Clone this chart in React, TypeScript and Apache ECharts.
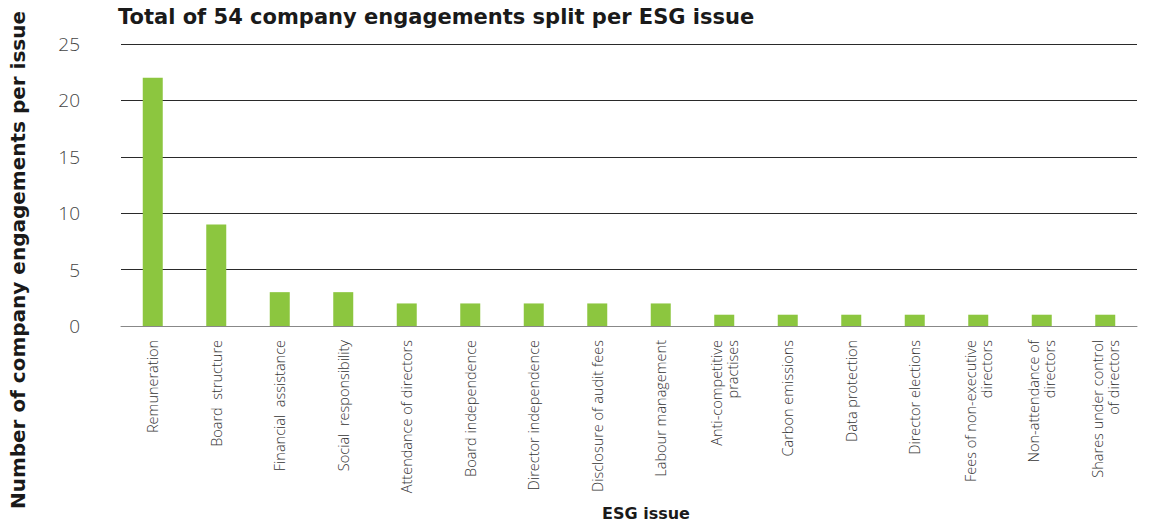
import React, { useEffect, useRef } from "react";
import * as echarts from "echarts";

const categories = [
  "Remuneration",
  "Board  structure",
  "Financial  assistance",
  "Social  responsibility",
  "Attendance of directors",
  "Board independence",
  "Director independence",
  "Disclosure of audit fees",
  "Labour management",
  "Anti-competitive\npractises",
  "Carbon emissions",
  "Data protection",
  "Director elections",
  "Fees of non-executive\ndirectors",
  "Non-attendance of\ndirectors",
  "Shares under control\nof directors",
];
const values = [22, 9, 3, 3, 2, 2, 2, 2, 2, 1, 1, 1, 1, 1, 1, 1];
const yTicks = { min: 0, max: 25, interval: 5 };
const title = "Total of 54 company engagements split per ESG issue";
const yName = "Number of company engagements per issue";
const xName = "ESG issue";

export default function App() {
  const ref = useRef<HTMLDivElement>(null);
  useEffect(() => {
    if (!ref.current) return;
    const chart = echarts.init(ref.current, null, { renderer: "svg" });
    chart.setOption({
      animation: false,
      backgroundColor: "#ffffff",
      title: {
        text: title,
        left: 113,
        top: 1,
        textStyle: { fontFamily: "DejaVu Sans", fontWeight: "bold", fontSize: 21, color: "#1a1a1a" },
      },
      grid: { left: 121, right: 14, top: 44, bottom: 199, containLabel: false },
      xAxis: {
        type: "category",
        data: categories,
        axisLine: { show: true, lineStyle: { color: "#888", width: 1 } },
        axisTick: { show: false },
        axisLabel: {
          interval: 0,
          rotate: 90,
          margin: 14,
          fontFamily: "Open Sans",
          fontWeight: 300,
          fontSize: 14.5,
          color: "#333",
          lineHeight: 16,
        },
      },
      yAxis: {
        type: "value",
        min: yTicks.min,
        max: yTicks.max,
        interval: yTicks.interval,
        axisLine: { show: false },
        axisTick: { show: false },
        axisLabel: {
          margin: 41,
          fontFamily: "Open Sans",
          fontWeight: 300,
          fontSize: 19,
          color: "#444",
        },
        splitLine: { show: true, lineStyle: { color: "#2a2a2a", width: 1 } },
      },
      graphic: [
        {
          type: "text",
          x: 18,
          y: 260,
          rotation: Math.PI / 2,
          style: {
            text: yName,
            fontFamily: "DejaVu Sans",
            fontWeight: "bold",
            fontSize: 20,
            fill: "#1a1a1a",
            align: "center",
            verticalAlign: "middle",
          },
        },
        {
          type: "text",
          x: 646,
          y: 513,
          style: {
            text: xName,
            fontFamily: "DejaVu Sans",
            fontWeight: "bold",
            fontSize: 16,
            fill: "#1a1a1a",
            align: "center",
            verticalAlign: "middle",
          },
        },
      ],
      series: [
        {
          type: "bar",
          data: values,
          barWidth: 20,
          itemStyle: { color: "#8cc63f" },
        },
      ],
    });
    return () => chart.dispose();
  }, []);
  return (
    <div
      ref={ref}
      style={{ position: "fixed", left: 0, top: 0, width: 1151, height: 525 }}
    />
  );
}
